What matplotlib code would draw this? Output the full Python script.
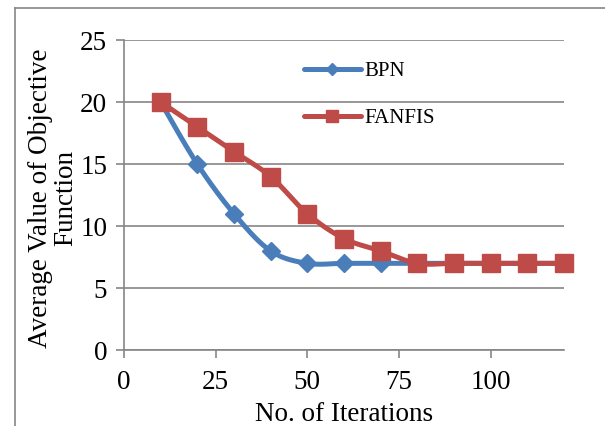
from matplotlib import pyplot as plt
from matplotlib.lines import Line2D
import numpy as np

# data
iterations = [10, 20, 30, 40, 50, 60, 70, 80, 90, 100, 110, 120]
bpn = [20, 15, 11, 8, 7, 7, 7, 7, 7, 7, 7, 7]
fanfis = [20, 18, 16, 14, 11, 9, 8, 7, 7, 7, 7, 7]
x_ticks = [0, 25, 50, 75, 100]
y_ticks = [0, 5, 10, 15, 20, 25]

blue = '#4A7EBB'
red = '#BE4B48'
grey = '#868686'


def smooth(x, y, n=30):
    # Excel-like smoothed line: cubic Bezier segments with Catmull-Rom tangents
    x = np.asarray(x, float)
    y = np.asarray(y, float)
    px = np.concatenate([[x[0]], x, [x[-1]]])
    py = np.concatenate([[y[0]], y, [y[-1]]])
    xs, ys = [], []
    t = np.linspace(0, 1, n)
    for i in range(1, len(px) - 2):
        p0 = np.array([px[i], py[i]])
        p3 = np.array([px[i + 1], py[i + 1]])
        p1 = p0 + (np.array([px[i + 1], py[i + 1]]) - np.array([px[i - 1], py[i - 1]])) / 6
        p2 = p3 - (np.array([px[i + 2], py[i + 2]]) - np.array([px[i], py[i]])) / 6
        b = ((1 - t) ** 3)[:, None] * p0 + (3 * (1 - t) ** 2 * t)[:, None] * p1 \
            + (3 * (1 - t) * t ** 2)[:, None] * p2 + (t ** 3)[:, None] * p3
        xs.extend(b[:, 0])
        ys.extend(b[:, 1])
    return xs, ys


plt.rcParams['font.family'] = ['Liberation Serif', 'DejaVu Serif']

fig = plt.figure(figsize=(6.05, 4.26), dpi=100)
ax = fig.add_axes([0.205, 0.178, 0.727, 0.728])

sx, sy = smooth(iterations, bpn)
ax.plot(sx, sy, color=blue, lw=3.6, solid_capstyle='round', clip_on=False, zorder=3)
ax.plot(iterations, bpn, ls='none', marker='D', ms=9, color=blue, clip_on=False, zorder=3)
sx, sy = smooth(iterations, fanfis)
ax.plot(sx, sy, color=red, lw=3.6, solid_capstyle='round', clip_on=False, zorder=4)
ax.plot(iterations, fanfis, ls='none', marker='s', ms=13.5, color=red, clip_on=False, zorder=4)

ax.set_xlim(0, 120)
ax.set_ylim(0, 25)
ax.set_xticks(x_ticks)
ax.set_yticks(y_ticks)
ax.grid(axis='y', color=grey, lw=1.2)
ax.set_axisbelow(True)
for s in ['top', 'right']:
    ax.spines[s].set_visible(False)
for s in ['left', 'bottom']:
    ax.spines[s].set_color(grey)
    ax.spines[s].set_linewidth(1.2)
ax.tick_params(axis='both', colors=grey, length=6, width=1.2, labelsize=19.5, labelcolor='black')
ax.tick_params(axis='x', pad=8)
ax.tick_params(axis='y', pad=6)

ax.set_xlabel('No. of Iterations', fontsize=19.5, labelpad=5)
fig.text(0.088, 0.535, 'Average Value of Objective\nFunction', rotation=90,
         ha='center', va='center', fontsize=19.5, linespacing=1.0)

handles = [Line2D([], [], color=blue, lw=3.6, marker='D', ms=6, solid_capstyle='round'),
           Line2D([], [], color=red, lw=3.6, marker='s', ms=9, solid_capstyle='round')]
ax.legend(handles, ['BPN', 'FANFIS'], loc='upper left', bbox_to_anchor=(0.41, 0.93),
          frameon=False, fontsize=15, labelspacing=1.3, handlelength=2.7,
          handletextpad=0.2, borderpad=0, borderaxespad=0)

# border around the chart area
fig.add_artist(Line2D([0.025, 0.025], [0, 0.981], color=grey, lw=1.2))
fig.add_artist(Line2D([0.025, 1], [0.981, 0.981], color=grey, lw=1.2))

plt.savefig('out.png', dpi=100)
